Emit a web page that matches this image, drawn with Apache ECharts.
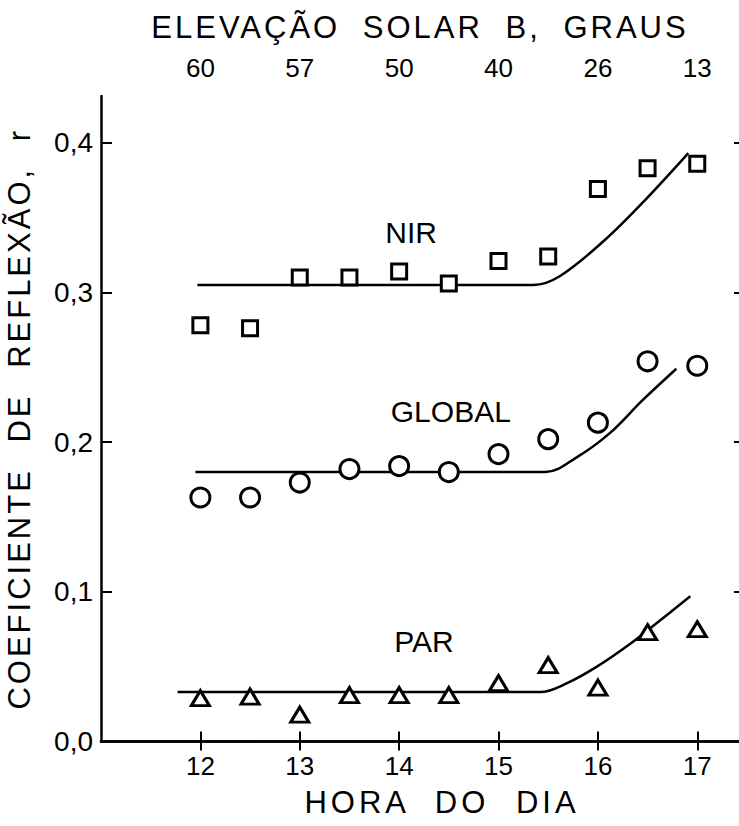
<!DOCTYPE html>
<html><head><meta charset="utf-8">
<script src="https://cdn.jsdelivr.net/npm/echarts@6/dist/echarts.min.js"></script>
<style>html,body{margin:0;padding:0;background:#fff}#c{width:739px;height:826px}</style>
</head><body><div id="c"></div>
<script>
// ---- data ----
const hours = [12, 12.5, 13, 13.5, 14, 14.5, 15, 15.5, 16, 16.5, 17];
const nirValues = [0.278, 0.276, 0.310, 0.310, 0.314, 0.306, 0.321, 0.324, 0.369, 0.383, 0.386];
const globalValues = [0.163, 0.163, 0.173, 0.182, 0.184, 0.180, 0.192, 0.202, 0.213, 0.254, 0.251];
const parValues = [0.029, 0.030, 0.018, 0.031, 0.031, 0.031, 0.039, 0.051, 0.036, 0.073, 0.075];

const nirCurveHours = [11.97, 15.35, 15.62, 16.07, 16.48, 16.91];
const nirCurveValues = [0.305, 0.305, 0.311, 0.335, 0.362, 0.393];
const globalCurveHours = [11.95, 15.47, 15.79, 16.12, 16.45, 16.79];
const globalCurveValues = [0.180, 0.180, 0.190, 0.206, 0.228, 0.249];
const parCurveHours = [11.77, 15.42, 15.69, 15.99, 16.34, 16.59, 16.93];
const parCurveValues = [0.033, 0.033, 0.039, 0.050, 0.066, 0.079, 0.097];

const curveNames = ['NIR', 'GLOBAL', 'PAR'];
const curveLabelHours = [14.12, 14.52, 14.25];
const curveLabelValues = [0.340, 0.2205, 0.0667];

const hourTicks = [12, 13, 14, 15, 16, 17];
const hourTickLabels = ['12', '13', '14', '15', '16', '17'];
const elevationTickLabels = ['60', '57', '50', '40', '26', '13'];
const reflTicks = [0, 0.1, 0.2, 0.3, 0.4];
const reflTickLabels = ['0,0', '0,1', '0,2', '0,3', '0,4'];

const xTitle = 'HORA DO DIA';
const topTitle = 'ELEVAÇÃO SOLAR B, GRAUS';
const yTitle = 'COEFICIENTE DE REFLEXÃO, r';

// ---- chart ----
const FONT = '"Liberation Sans", Arial, sans-serif';
const zip = (xs, ys) => xs.map((x, i) => [x, ys[i]]);
const chart = echarts.init(document.getElementById('c'), null, {renderer: 'svg'});

const axisLineStyle = {color: '#000', width: 2.5};
const markerStyle = {color: '#fff', borderColor: '#000', borderWidth: 3, opacity: 1};
const curveStyle = {color: '#000', width: 2.5};

function curve(xs, ys) {
  return {type: 'line', data: zip(xs, ys), smooth: 0.35, symbol: 'none', silent: true,
    lineStyle: curveStyle, z: 2, animation: false};
}
function points(vals, symbol, size) {
  return {type: 'scatter', data: zip(hours, vals), symbol: symbol, symbolSize: size, silent: true,
    itemStyle: markerStyle, z: 3, animation: false};
}

chart.setOption({
  animation: false,
  backgroundColor: '#fff',
  grid: {left: 101, right: 0, top: 96, bottom: 84.5, containLabel: false, outerBoundsMode: 'none'},
  xAxis: [{
    type: 'value', position: 'bottom', min: 11, max: 17.42,
    axisLine: {show: true, lineStyle: axisLineStyle},
    axisTick: {show: true, inside: true, length: 10, lineStyle: {color: '#000', width: 2}, customValues: hourTicks},
    axisLabel: {customValues: hourTicks, formatter: v => hourTickLabels[hourTicks.indexOf(v)],
      color: '#000', fontFamily: FONT, fontSize: 26, margin: 11},
    splitLine: {show: false},
    name: xTitle, nameLocation: 'middle', nameGap: 45,
    nameTextStyle: {color: '#000', fontFamily: FONT, fontSize: 31, padding: [0, 0, 0, 44]}
  }, {
    type: 'value', position: 'top', min: 11, max: 17.42,
    axisLine: {show: true, lineStyle: axisLineStyle},
    axisTick: {show: true, inside: true, length: 9, lineStyle: {color: '#000', width: 2}, customValues: hourTicks},
    axisLabel: {customValues: hourTicks, formatter: v => elevationTickLabels[hourTicks.indexOf(v)],
      color: '#000', fontFamily: FONT, fontSize: 26, margin: 15},
    splitLine: {show: false},
    name: topTitle, nameLocation: 'middle', nameGap: 53,
    nameTextStyle: {color: '#000', fontFamily: FONT, fontSize: 31}
  }],
  yAxis: [{
    type: 'value', position: 'left', min: 0, max: 0.4312,
    axisLine: {show: true, lineStyle: axisLineStyle},
    axisTick: {show: true, inside: true, length: 11, lineStyle: {color: '#000', width: 2}, customValues: reflTicks.slice(1)},
    axisLabel: {customValues: reflTicks, formatter: v => reflTickLabels[reflTicks.indexOf(v)],
      color: '#000', fontFamily: FONT, fontSize: 28, margin: 8},
    splitLine: {show: false},
    name: yTitle, nameLocation: 'middle', nameGap: 66,
    nameTextStyle: {color: '#000', fontFamily: FONT, fontSize: 31}
  }, {
    type: 'value', position: 'right', min: 0, max: 0.4312,
    axisLine: {show: false},
    axisTick: {show: true, inside: true, length: 5, lineStyle: {color: '#000', width: 2}, customValues: reflTicks.slice(1)},
    axisLabel: {show: false},
    splitLine: {show: false}
  }],
  series: [
    curve(nirCurveHours, nirCurveValues),
    curve(globalCurveHours, globalCurveValues),
    curve(parCurveHours, parCurveValues),
    points(nirValues, 'rect', 15),
    points(globalValues, 'circle', 19),
    points(parValues, 'triangle', [18, 15]),
    {
      type: 'scatter', silent: true, symbol: 'rect', symbolSize: 1, z: 4,
      itemStyle: {color: 'rgba(0,0,0,0)', opacity: 1},
      data: curveNames.map((n, i) => ({name: n, value: [curveLabelHours[i], curveLabelValues[i]]})),
      label: {show: true, position: 'inside', formatter: p => p.name, opacity: 1,
        color: '#000', fontFamily: FONT, fontSize: 30}
    }
  ]
});

// widen the lettering of the axis titles like the hand-lettered original
const spacing = {};
spacing[xTitle] = ['4px', '14px'];
spacing[topTitle] = ['3px', '11px'];
spacing[yTitle] = ['3px', '14px'];
function spaceOut() {
  document.querySelectorAll('#c svg text').forEach(t => {
    const s = spacing[t.textContent];
    if (s) { t.setAttribute('letter-spacing', s[0]); t.setAttribute('word-spacing', s[1]); }
  });
}
spaceOut();
chart.on('finished', spaceOut);
</script>
</body></html>
